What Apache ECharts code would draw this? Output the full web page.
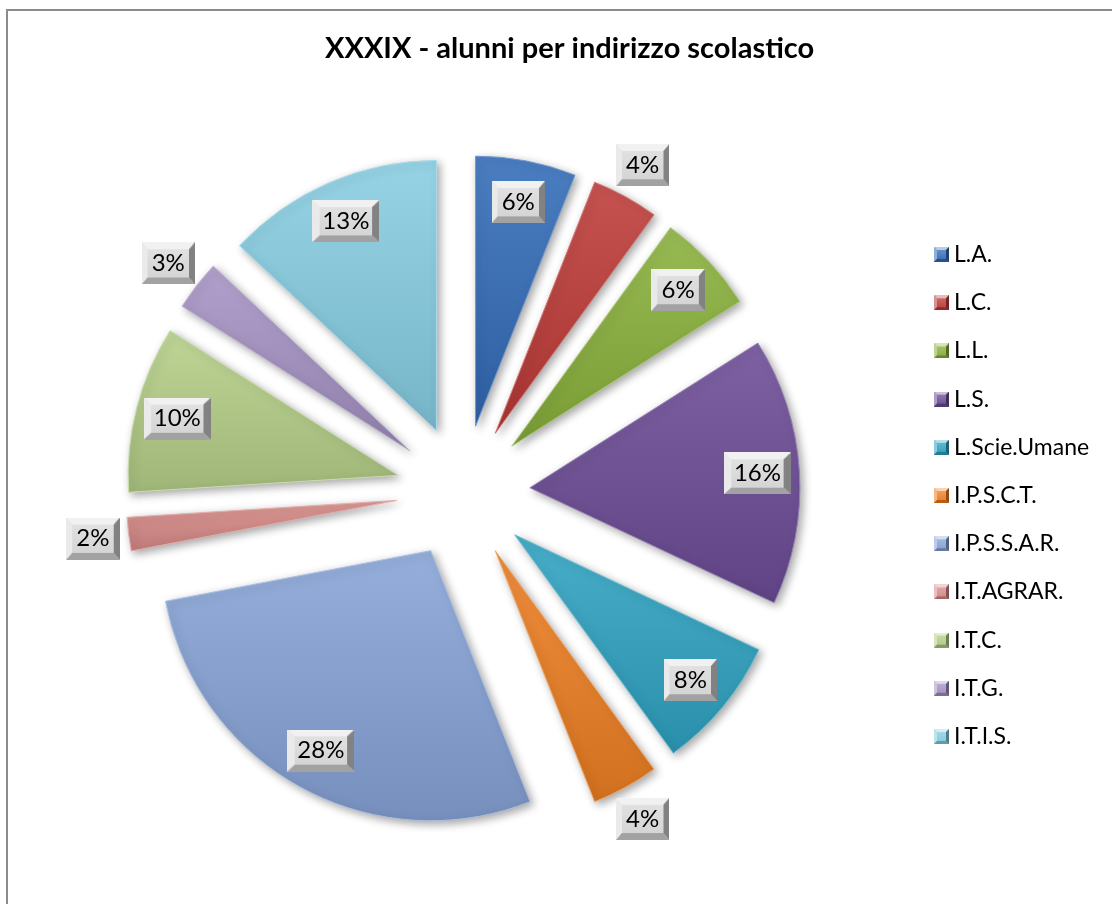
<!DOCTYPE html>
<html><head><meta charset="utf-8">
<script src="https://cdn.jsdelivr.net/npm/echarts@6/dist/echarts.min.js"></script>
<style>html,body{margin:0;padding:0;background:#fff}#c{width:1112px;height:904px}</style>
</head><body><div id="c"></div>
<script>
const categories = ['L.A.','L.C.','L.L.','L.S.','L.Scie.Umane','I.P.S.C.T.','I.P.S.S.A.R.','I.T.AGRAR.','I.T.C.','I.T.G.','I.T.I.S.'];
const shares = [6,4,6,16,8,4,28,2,10,3,13];
const outsideLabels = ['L.C.','I.P.S.C.T.','I.T.AGRAR.','I.T.G.'];
const colors = ['#336CB8','#BE3B38','#8AB13C','#6C4C96','#2FA3C2','#EE7F22','#87A3D6','#D88B88','#B5CF88','#A593C4','#86CDE2'];
const titleText = 'XXXIX - alunni per indirizzo scolastico';

function hex2rgb(h){h=h.replace('#','');return [parseInt(h.substr(0,2),16),parseInt(h.substr(2,2),16),parseInt(h.substr(4,2),16)];}
function mix(h,t,a){const c=hex2rgb(h);const m=t==='w'?255:0;return 'rgb('+c.map(v=>Math.round(v+(m-v)*a)).join(',')+')';}

function bevelImage(w,h,base,b){
  const cv=document.createElement('canvas');cv.width=w;cv.height=h;const g=cv.getContext('2d');
  const grd=g.createLinearGradient(0,0,0,h);
  grd.addColorStop(0,mix(base,'w',0.3));grd.addColorStop(1,mix(base,'b',0.03));
  g.fillStyle=grd;g.fillRect(0,0,w,h);
  g.fillStyle=mix(base,'w',0.65);g.beginPath();g.moveTo(0,0);g.lineTo(w,0);g.lineTo(w-b,b);g.lineTo(b,b);g.closePath();g.fill();
  g.fillStyle=mix(base,'w',0.45);g.beginPath();g.moveTo(0,0);g.lineTo(b,b);g.lineTo(b,h-b);g.lineTo(0,h);g.closePath();g.fill();
  g.fillStyle=mix(base,'b',0.4);g.beginPath();g.moveTo(w,0);g.lineTo(w,h);g.lineTo(w-b,h-b);g.lineTo(w-b,b);g.closePath();g.fill();
  g.fillStyle=mix(base,'b',0.25);g.beginPath();g.moveTo(0,h);g.lineTo(w,h);g.lineTo(w-b,h-b);g.lineTo(b,h-b);g.closePath();g.fill();
  return cv.toDataURL();
}
const labelBg = bevelImage(64,43,'#d8d8d8',7);

const center=[463,492];
const offset=67;
const pctFmt = p => Math.round(p.percent)+'%';
const labelStyle = {show:true, position:'inside', formatter:pctFmt, color:'#000', fontFamily:'Lato', fontSize:24,
  textBorderWidth:0, backgroundColor:{image:labelBg}, padding:[8,10,8,10], lineHeight:26};

function labelSeries(radius, want){
  return {type:'pie', silent:true, center:center, radius:radius, startAngle:90, clockwise:true,
    selectedMode:'multiple', selectedOffset:offset, avoidLabelOverlap:false, z:5,
    itemStyle:{color:'rgba(0,0,0,0)', borderWidth:0}, label:labelStyle, labelLine:{show:false},
    emphasis:{disabled:true},
    data:categories.map((n,i)=>({name:n, value:shares[i], selected:true, label:{show:want(n)}}))};
}

const chart=echarts.init(document.getElementById('c'),null,{renderer:'canvas'});
chart.setOption({
  animation:false,
  backgroundColor:'#fff',
  color:colors,
  title:{text:titleText, left:320, top:29, textStyle:{fontFamily:'Lato', fontWeight:'bold', fontSize:29, color:'#000'}},
  graphic:[{type:'rect', shape:{x:7,y:10,width:1300,height:1100}, style:{fill:'none', stroke:'#8c8c8c', lineWidth:2}, silent:true}],
  legend:{orient:'vertical', left:929, top:238, itemWidth:15, itemHeight:15, itemGap:25.2,
    textStyle:{fontFamily:'Lato', fontSize:23, color:'#000', lineHeight:23},
    data:categories.map((n,i)=>({name:n, icon:'image://'+bevelImage(15,15,colors[i],3)}))},
  series:[
    {type:'pie', center:center, radius:270, startAngle:90, clockwise:true,
     selectedMode:'multiple', selectedOffset:offset, avoidLabelOverlap:false,
     label:{show:false}, labelLine:{show:false}, emphasis:{disabled:true},
     itemStyle:{shadowBlur:8, shadowColor:'rgba(0,0,0,0.35)', shadowOffsetX:3, shadowOffsetY:3},
     data:categories.map((n,i)=>({name:n, value:shares[i], selected:true,
       itemStyle:{color:new echarts.graphic.LinearGradient(0,0,0,1,[{offset:0,color:mix(colors[i],'w',0.12)},{offset:1,color:mix(colors[i],'b',0.12)}]),
         borderColor:mix(colors[i],'w',0.3), borderWidth:1}}))},
    labelSeries([180,270], n=>outsideLabels.indexOf(n)<0),
    labelSeries([288,318], n=>outsideLabels.indexOf(n)>=0)
  ]
});
</script></body></html>
